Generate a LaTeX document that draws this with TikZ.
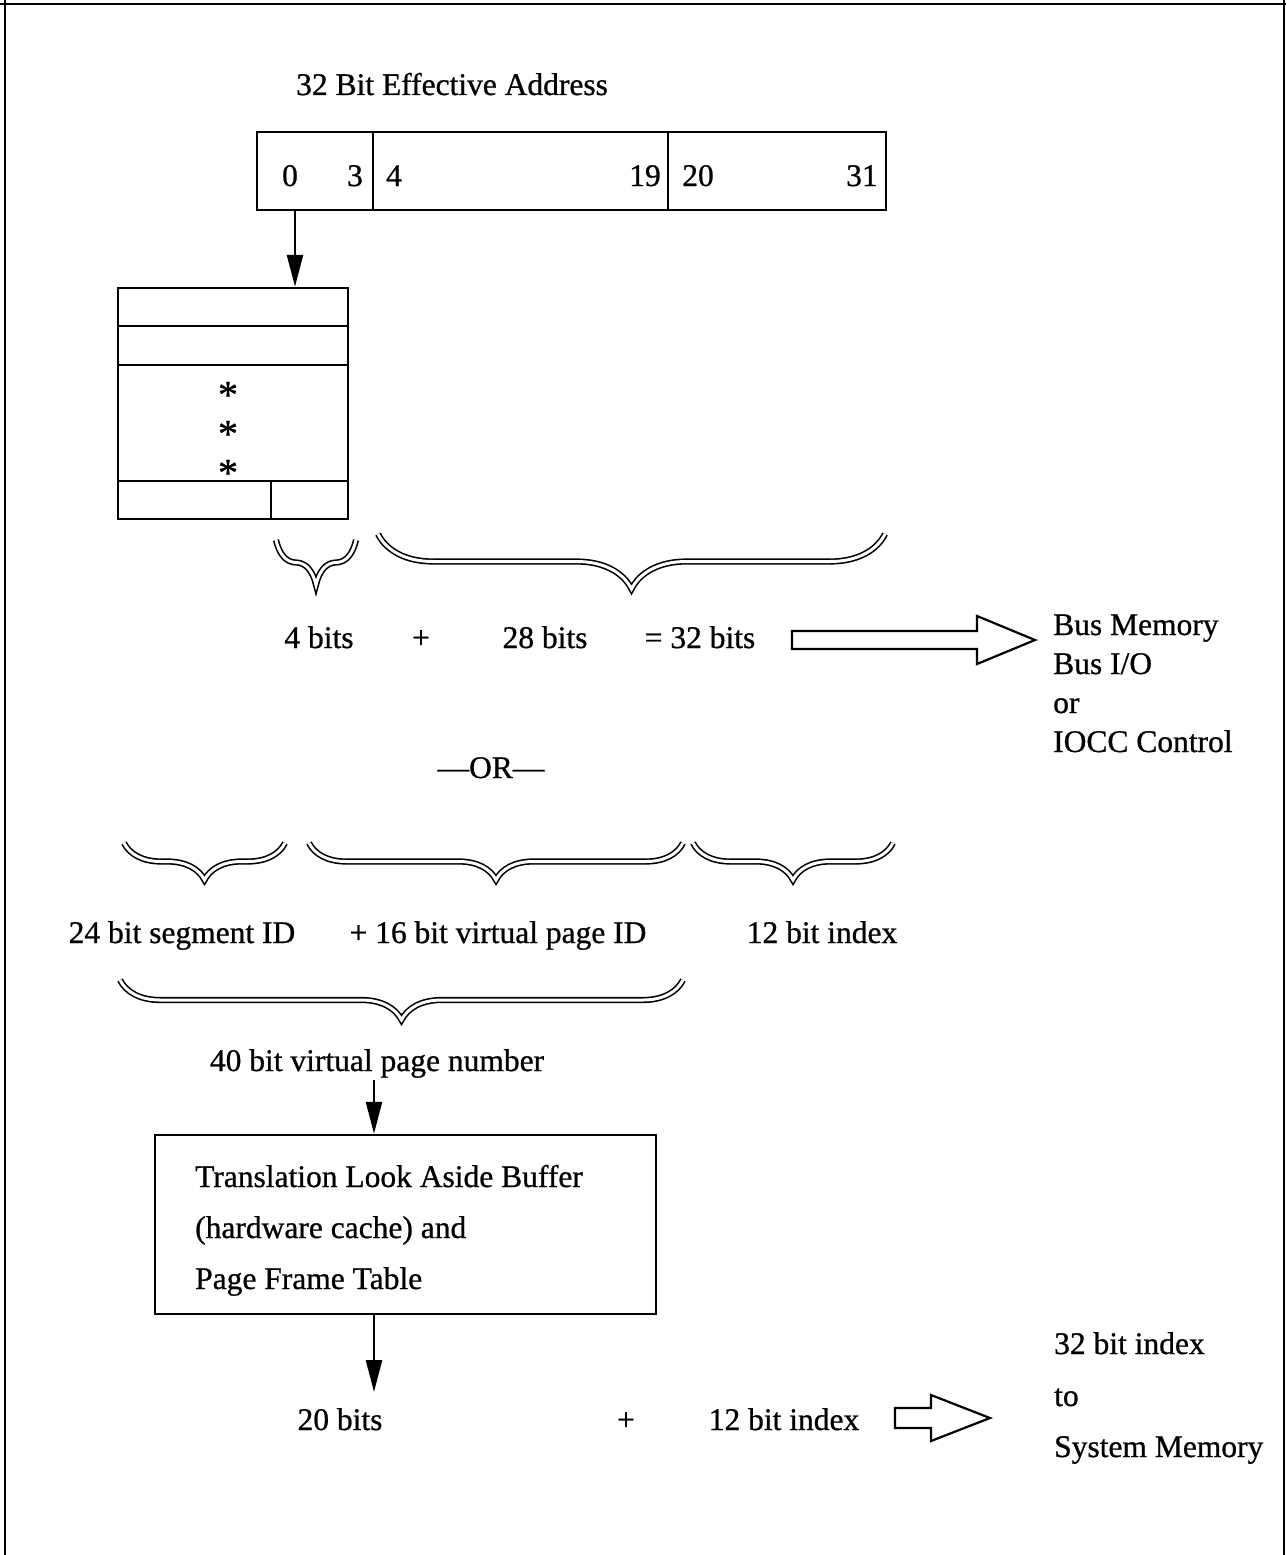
\documentclass[tikz,border=0pt]{standalone}
\usepackage{fontspec}
\setmainfont{Liberation Serif}[FakeBold=0.8]
\usetikzlibrary{arrows.meta,decorations.pathreplacing}
\begin{document}
\begin{tikzpicture}[x=1pt,y=-1pt,
  box/.style={draw, line width=2.5pt, inner sep=0pt},
  lbl/.style={font=\fontsize{31.5}{36}\selectfont, inner sep=0pt, anchor=base},
  lbll/.style={lbl, anchor=base west},
  star/.style={font=\fontsize{40}{40}\selectfont, inner sep=0pt},
  brc/.style={decorate, decoration={brace, mirror, amplitude=#1}, double, double distance=3pt, line width=1.6pt},
  hollow/.style={draw, line width=2.2pt, fill=white, line join=miter},
  arr/.style={line width=2.5pt, -{Triangle[length=32pt,width=16pt]}}]
\useasboundingbox (0,0) rectangle (1286,1555);
% frame
\draw[line width=2.5pt] (0,4) -- (1286,4);
\draw[line width=2.5pt] (5,0) -- (5,1555);
\draw[line width=1.2pt] (1284,0) -- (1284,1555);
% title
\node[lbll] (title) at (296,95) {32 Bit Effective Address};
% register
\node[box, minimum width=116pt, minimum height=78pt] (f0) at (315,171) {};
\node[box, minimum width=295pt, minimum height=78pt] (f1) at (520.5,171) {};
\node[box, minimum width=218pt, minimum height=78pt] (f2) at (777,171) {};
\node[lbl] (b0) at (290,186) {0};
\node[lbl] (b3) at (355,186) {3};
\node[lbl] (b4) at (394,186) {4};
\node[lbl] (b19) at (645,186) {19};
\node[lbl] (b20) at (698,186) {20};
\node[lbl] (b31) at (862,186) {31};
% table
\node[box, minimum width=230pt, minimum height=231pt] (tab) at (233,403.5) {};
\draw[line width=2.5pt] (118,326) -- (348,326);
\draw[line width=2.5pt] (118,365) -- (348,365);
\draw[line width=2.5pt] (118,481) -- (348,481);
\draw[line width=2.5pt] (271,481) -- (271,519);
\node[star] (s1) at (228,395) {*};
\node[star] (s2) at (228,434) {*};
\node[star] (s3) at (228,473) {*};
\draw[arr] ([xshift=-20pt]f0.south) -- ([xshift=62pt]tab.north);
% braces row 1
\draw[brc=45pt] (276,540) -- (356,540);
\draw[brc=55pt] (378,534) -- (885,534);
\node[lbl] (t4) at (319,648) {4 bits};
\node[lbl] (tp1) at (421,648) {+};
\node[lbl] (t28) at (545,648) {28 bits};
\node[lbl] (t32) at (700,648) {= 32 bits};
\draw[hollow] (792,631) -- (977,631) -- (977,616) -- (1035,640) -- (977,664) -- (977,649) -- (792,649) -- cycle;
\node[lbll] (bm) at (1053,635) {Bus Memory};
\node[lbll] (bio) at (1053,674) {Bus I/O};
\node[lbll] (bor) at (1053,713) {or};
\node[lbll] (iocc) at (1053,752) {IOCC Control};
\node[lbl] (or) at (491,778) {---OR---};
% braces row 2
\draw[brc=37pt] (124,843) -- (285,843);
\draw[brc=37pt] (309,843) -- (683,843);
\draw[brc=37pt] (693,843) -- (893,843);
\node[lbl] (seg) at (182,943) {24 bit segment ID};
\node[lbl] (vp) at (498,943) {+ 16 bit virtual page ID};
\node[lbl] (idx1) at (822,943) {12 bit index};
\draw[brc=40pt] (120,980) -- (683,980);
\node[lbl] (vpn) at (377,1071) {40 bit virtual page number};
% TLB
\node[box, minimum width=501pt, minimum height=179pt] (tlb) at (405.5,1224.5) {};
\node[lbll] (l1) at (195,1187) {Translation Look Aside Buffer};
\node[lbll] (l2) at (195,1238) {(hardware cache) and};
\node[lbll] (l3) at (195,1289) {Page Frame Table};
\coordinate (vpnb) at (374,1080);
\draw[arr] (vpnb) -- (vpnb |- tlb.north);
\coordinate (r20) at (374,1392);
\draw[arr] (r20 |- tlb.south) -- (r20);
\node[lbl] (t20) at (340,1430) {20 bits};
\node[lbl] (tp2) at (626,1430) {+};
\node[lbl] (idx2) at (784,1430) {12 bit index};
\draw[hollow] (895,1408) -- (931,1408) -- (931,1395) -- (990,1418) -- (931,1441) -- (931,1428) -- (895,1428) -- cycle;
\node[lbll] (o1) at (1054,1354) {32 bit index};
\node[lbll] (o2) at (1054,1406) {to};
\node[lbll] (o3) at (1054,1457) {System Memory};
\end{tikzpicture}
\end{document}
